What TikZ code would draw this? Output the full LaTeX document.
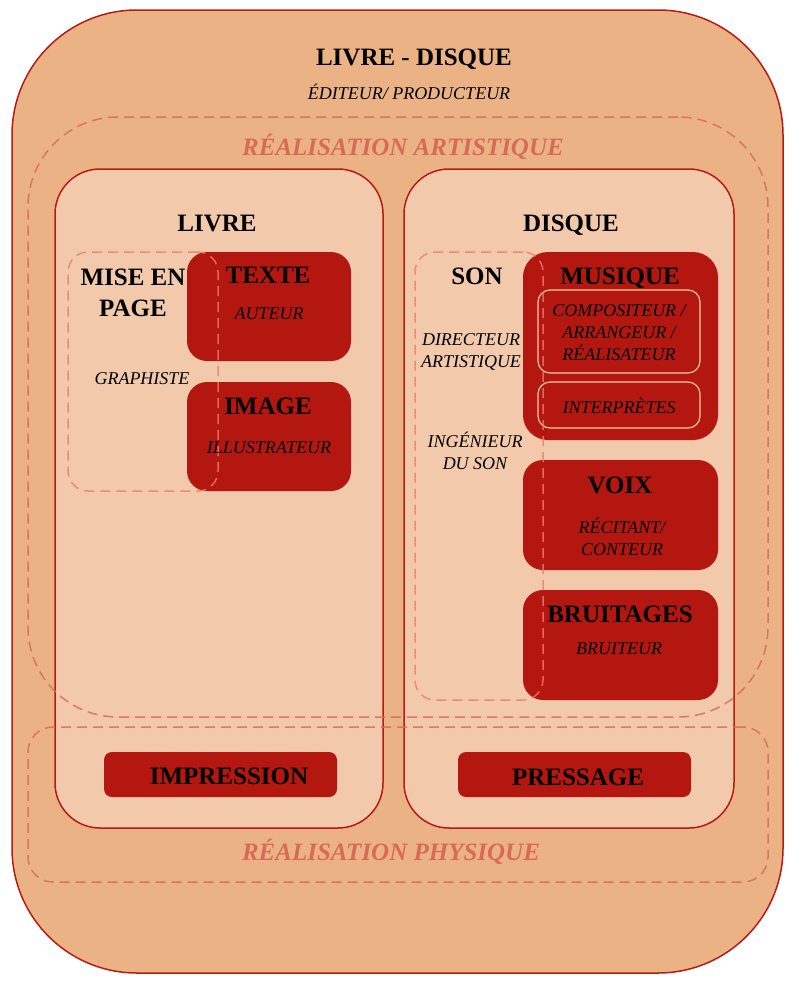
\documentclass[tikz,border=0pt]{standalone}
\usepackage{fontspec}
\setmainfont{Liberation Serif}
\definecolor{outerfill}{HTML}{EBB385}
\definecolor{innerfill}{HTML}{F2CAAB}
\definecolor{darkred}{HTML}{B3170F}
\definecolor{edge}{HTML}{B81A14}
\definecolor{zonecol}{HTML}{D96A57}
\definecolor{groupcol}{HTML}{EE7B6C}
\definecolor{lightedge}{HTML}{F2C7A0}
\begin{document}
\begin{tikzpicture}[x=1pt,y=-1pt,
  outerbox/.style={draw=edge,line width=1.5pt,fill=outerfill,rounded corners=125pt,inner sep=0pt},
  innerbox/.style={draw=edge,line width=1.5pt,fill=innerfill,rounded corners=45pt,inner sep=0pt},
  zonebox/.style={draw=zonecol,line width=1.5pt,dash pattern=on 10pt off 6pt,draw opacity=0.85,inner sep=0pt},
  groupbox/.style={draw=groupcol,line width=1.5pt,dash pattern=on 10pt off 6pt,draw opacity=0.8,rounded corners=20pt,inner sep=0pt},
  darkbox/.style={fill=darkred,rounded corners=20pt,inner sep=0pt},
  subbox/.style={draw=lightedge,line width=1.2pt,rounded corners=12pt,inner sep=0pt},
  title/.style={font=\fontsize{25}{31}\selectfont\bfseries,text=black,inner sep=0pt,align=center},
  role/.style={font=\fontsize{18}{22}\selectfont\itshape,text=black,inner sep=0pt,align=center},
  zonelabel/.style={font=\fontsize{25}{30}\selectfont\bfseries\itshape,text=zonecol,inner sep=0pt}
]
\useasboundingbox (0,0) rectangle (790,983);
% outer
\node[outerbox,minimum width=771pt,minimum height=963pt] (outer) at (397.5,491.5) {};
% inner boxes
\node[innerbox,minimum width=328pt,minimum height=659pt] (livre) at (219,498.5) {};
\node[innerbox,minimum width=330pt,minimum height=659pt] (disque) at (569,498.5) {};
% dark boxes
\node[darkbox,minimum width=164pt,minimum height=109pt] (texte) at (269,306.5) {};
\node[darkbox,minimum width=164pt,minimum height=109pt] (image) at (269,436.5) {};
\node[darkbox,rounded corners=25pt,minimum width=195pt,minimum height=188pt] (musique) at (620.5,346) {};
\node[subbox,minimum width=162pt,minimum height=83pt] (compo) at (619,331.5) {};
\node[subbox,minimum width=162pt,minimum height=46pt] (interp) at (619,405) {};
\node[darkbox,minimum width=195pt,minimum height=110pt] (voix) at (620.5,515) {};
\node[darkbox,minimum width=195pt,minimum height=110pt] (bruit) at (620.5,645) {};
\node[darkbox,rounded corners=8pt,minimum width=233pt,minimum height=45pt] (impr) at (220.5,774.5) {};
\node[darkbox,rounded corners=8pt,minimum width=233pt,minimum height=45pt] (press) at (574.5,774.5) {};
% dashed groups
\node[groupbox,minimum width=150pt,minimum height=239pt] (mise) at (143,371.5) {};
\node[groupbox,minimum width=128pt,minimum height=448pt] (son) at (479,476) {};
\node[zonebox,rounded corners=90pt,minimum width=740pt,minimum height=600pt] (artist) at (398,417) {};
\node[zonebox,rounded corners=25pt,minimum width=740pt,minimum height=155pt] (phys) at (398,804.5) {};
% texts
\node[title,anchor=base] (tmain) at (414,65) {LIVRE - DISQUE};
\node[role,anchor=base] (tedit) at (409,99) {ÉDITEUR/ PRODUCTEUR};
\node[zonelabel,anchor=base] (tart) at (403,155) {RÉALISATION ARTISTIQUE};
\node[zonelabel,anchor=base] (tphys) at (391,860) {RÉALISATION PHYSIQUE};
\node[title,anchor=base] (tlivre) at (217,231) {LIVRE};
\node[title,anchor=base] (tdisque) at (571,231) {DISQUE};
\node[title,anchor=center] (tmise) at (133,293) {MISE EN\\PAGE};
\node[role,anchor=base] (tgraph) at (142,384) {GRAPHISTE};
\node[title,anchor=base] (ttexte) at (268,283) {TEXTE};
\node[role,anchor=base] (tauteur) at (269,319) {AUTEUR};
\node[title,anchor=base] (timage) at (268,414) {IMAGE};
\node[role,anchor=base] (tillu) at (269,453) {ILLUSTRATEUR};
\node[title,anchor=base] (tson) at (477,284) {SON};
\node[role,anchor=center] (tdir) at (471,352) {DIRECTEUR\\ARTISTIQUE};
\node[role,anchor=center] (ting) at (475,451) {INGÉNIEUR\\DU SON};
\node[title,anchor=base] (tmus) at (620,284) {MUSIQUE};
\node[role,anchor=center] (tcomp) at (619,333) {COMPOSITEUR /\\ARRANGEUR /\\RÉALISATEUR};
\node[role,anchor=base] (tinterp) at (619,413) {INTERPRÈTES};
\node[title,anchor=base] (tvoix) at (620,493) {VOIX};
\node[role,anchor=center] (trecit) at (622,537) {RÉCITANT/\\CONTEUR};
\node[title,anchor=base] (tbruit) at (620,622) {BRUITAGES};
\node[role,anchor=base] (tbruiteur) at (619,654) {BRUITEUR};
\node[title,anchor=base] (timpr) at (229,784) {IMPRESSION};
\node[title,anchor=base] (tpress) at (578,785) {PRESSAGE};
\end{tikzpicture}
\end{document}
